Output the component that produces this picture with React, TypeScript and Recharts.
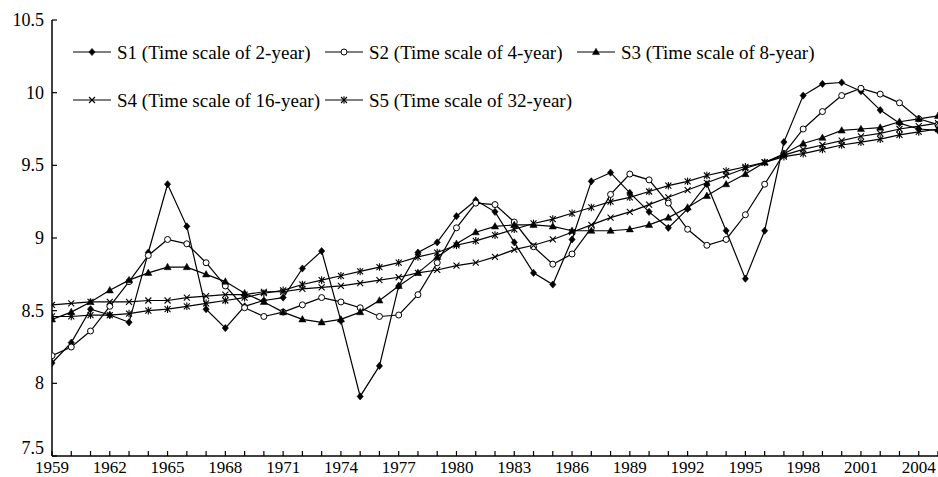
import React from 'react';
import { LineChart, Line, XAxis, YAxis } from 'recharts';

const years = [
  1959, 1960, 1961, 1962, 1963, 1964, 1965, 1966, 1967, 1968,
  1969, 1970, 1971, 1972, 1973, 1974, 1975, 1976, 1977, 1978,
  1979, 1980, 1981, 1982, 1983, 1984, 1985, 1986, 1987, 1988,
  1989, 1990, 1991, 1992, 1993, 1994, 1995, 1996, 1997, 1998,
  1999, 2000, 2001, 2002, 2003, 2004, 2005,
];

const s1 = [
  8.14, 8.28, 8.51, 8.47, 8.42, 8.90, 9.37, 9.08, 8.51, 8.38,
  8.53, 8.57, 8.59, 8.79, 8.91, 8.43, 7.91, 8.12, 8.67, 8.90,
  8.97, 9.15, 9.26, 9.18, 8.97, 8.76, 8.68, 8.99, 9.39, 9.45,
  9.31, 9.18, 9.07, 9.20, 9.37, 9.05, 8.72, 9.05, 9.66, 9.98,
  10.06, 10.07, 10.01, 9.88, 9.79, 9.75, 9.74,
];

const s2 = [
  8.19, 8.25, 8.36, 8.53, 8.70, 8.88, 8.99, 8.96, 8.83, 8.67,
  8.52, 8.46, 8.49, 8.54, 8.59, 8.56, 8.52, 8.46, 8.47, 8.61,
  8.83, 9.07, 9.24, 9.23, 9.11, 8.94, 8.82, 8.89, 9.07, 9.30,
  9.44, 9.40, 9.24, 9.06, 8.95, 8.99, 9.16, 9.37, 9.58, 9.75,
  9.87, 9.98, 10.03, 9.99, 9.93, 9.82, 9.78,
];

const s3 = [
  8.44, 8.49, 8.56, 8.64, 8.71, 8.76, 8.80, 8.80, 8.75, 8.70,
  8.62, 8.56, 8.49, 8.44, 8.42, 8.44, 8.49, 8.57, 8.67, 8.76,
  8.87, 8.96, 9.04, 9.08, 9.09, 9.09, 9.08, 9.05, 9.05, 9.05,
  9.06, 9.09, 9.14, 9.21, 9.29, 9.37, 9.44, 9.52, 9.58, 9.65,
  9.69, 9.74, 9.75, 9.76, 9.80, 9.82, 9.84,
];

const s4 = [
  8.54, 8.55, 8.56, 8.56, 8.56, 8.57, 8.57, 8.59, 8.60, 8.61,
  8.61, 8.63, 8.63, 8.65, 8.66, 8.67, 8.69, 8.71, 8.73, 8.76,
  8.78, 8.81, 8.83, 8.87, 8.92, 8.95, 8.99, 9.04, 9.09, 9.14,
  9.18, 9.23, 9.28, 9.33, 9.38, 9.43, 9.48, 9.52, 9.57, 9.61,
  9.64, 9.67, 9.70, 9.72, 9.75, 9.77, 9.79,
];

const s5 = [
  8.46, 8.46, 8.47, 8.47, 8.48, 8.50, 8.51, 8.53, 8.55, 8.57,
  8.59, 8.62, 8.64, 8.68, 8.71, 8.74, 8.77, 8.80, 8.83, 8.87,
  8.90, 8.95, 8.98, 9.02, 9.06, 9.10, 9.13, 9.17, 9.21, 9.25,
  9.28, 9.32, 9.36, 9.39, 9.43, 9.46, 9.49, 9.52, 9.56, 9.58,
  9.61, 9.64, 9.66, 9.68, 9.71, 9.73, 9.75,
];

const seriesNames = [
  'S1 (Time scale of 2-year)',
  'S2 (Time scale of 4-year)',
  'S3 (Time scale of 8-year)',
  'S4 (Time scale of 16-year)',
  'S5 (Time scale of 32-year)',
];

const yTicks = [7.5, 8, 8.5, 9, 9.5, 10, 10.5];
const labelEvery = 3;

const data = years.map((y, i) => ({ year: y, s1: s1[i], s2: s2[i], s3: s3[i], s4: s4[i], s5: s5[i] }));

const FONT = '"Liberation Serif", "Times New Roman", serif';

type MarkerFn = (cx: number, cy: number) => React.ReactNode;

const diamond: MarkerFn = (cx, cy) => (
  <polygon points={`${cx},${cy - 3.6} ${cx + 3.1},${cy} ${cx},${cy + 3.6} ${cx - 3.1},${cy}`} fill="#000" stroke="#000" strokeWidth={0.6} />
);
const circle: MarkerFn = (cx, cy) => (
  <circle cx={cx} cy={cy} r={3} fill="#fff" stroke="#000" strokeWidth={1} />
);
const triangle: MarkerFn = (cx, cy) => (
  <polygon points={`${cx},${cy - 3.8} ${cx + 3.6},${cy + 2.6} ${cx - 3.6},${cy + 2.6}`} fill="#000" stroke="#000" strokeWidth={0.5} />
);
const cross: MarkerFn = (cx, cy) => (
  <g stroke="#000" strokeWidth={1.1}>
    <line x1={cx - 3} y1={cy - 3} x2={cx + 3} y2={cy + 3} />
    <line x1={cx - 3} y1={cy + 3} x2={cx + 3} y2={cy - 3} />
  </g>
);
const star: MarkerFn = (cx, cy) => (
  <g stroke="#000" strokeWidth={1.1}>
    <line x1={cx - 3} y1={cy - 3} x2={cx + 3} y2={cy + 3} />
    <line x1={cx - 3} y1={cy + 3} x2={cx + 3} y2={cy - 3} />
    <line x1={cx} y1={cy - 3.8} x2={cx} y2={cy + 3.8} />
  </g>
);

const markers: MarkerFn[] = [diamond, circle, triangle, cross, star];
const keys = ['s1', 's2', 's3', 's4', 's5'];

const makeDot = (m: MarkerFn, name: string) => (p: any) => {
  if (p.cx == null || p.cy == null) return <g key={`${name}-${p.index}`} />;
  return <g key={`${name}-${p.index}`}>{m(p.cx, p.cy)}</g>;
};

const XTick = (props: any) => {
  const { x, y, payload } = props;
  const v = payload.value as number;
  const showLabel = (v - years[0]) % labelEvery === 0 && v !== years[years.length - 1];
  return (
    <g>
      <line x1={x} y1={y} x2={x} y2={y - 5} stroke="#000" strokeWidth={1.2} />
      {showLabel && (
        <text x={x} y={y + 17} textAnchor="middle" fontFamily={FONT} fontSize={17} fill="#000">
          {v}
        </text>
      )}
    </g>
  );
};

const YTick = (props: any) => {
  const { x, y, payload } = props;
  const isBottom = payload.value === yTicks[0];
  return (
    <g>
      <line x1={x} y1={y} x2={x + 5} y2={y} stroke="#000" strokeWidth={1.2} />
      <text x={x - 8} y={y + (isBottom ? -2 : 6)} textAnchor="end" fontFamily={FONT} fontSize={18} fill="#000">
        {payload.value}
      </text>
    </g>
  );
};

const legendLayout = [
  { row: 0, x: 73 },
  { row: 0, x: 325 },
  { row: 0, x: 577 },
  { row: 1, x: 73 },
  { row: 1, x: 325 },
];
const legendRowsY = [52, 100];

export default function App() {
  return (
    <div style={{ position: 'absolute', left: 0, top: 0, width: 938, height: 477, background: '#fff' }}>
      <LineChart
        width={938}
        height={477}
        data={data}
        margin={{ top: 20, right: 0, left: 0, bottom: 0 }}
      >
        <XAxis
          dataKey="year"
          type="number"
          domain={[years[0], years[years.length - 1]]}
          ticks={years}
          interval={0}
          tickSize={0}
          tickMargin={0}
          tickLine={false}
          tick={<XTick />}
          height={21}
          axisLine={{ stroke: '#000', strokeWidth: 1.5 }}
          allowDataOverflow
        />
        <YAxis
          type="number"
          domain={[7.5, 10.5]}
          ticks={yTicks}
          interval={0}
          tickSize={0}
          tickMargin={0}
          tickLine={false}
          tick={<YTick />}
          width={52}
          axisLine={{ stroke: '#000', strokeWidth: 1.5 }}
        />
        {keys.map((k, i) => (
          <Line
            key={k}
            type="linear"
            dataKey={k}
            name={seriesNames[i]}
            stroke="#000"
            strokeWidth={1.2}
            dot={makeDot(markers[i], k)}
            activeDot={false}
            isAnimationActive={false}
          />
        ))}
      </LineChart>
      <svg
        width={938}
        height={130}
        style={{ position: 'absolute', left: 0, top: 0, pointerEvents: 'none' }}
      >
        {legendLayout.map((l, i) => {
          const y = legendRowsY[l.row];
          return (
            <g key={i}>
              <line x1={l.x} y1={y} x2={l.x + 38} y2={y} stroke="#000" strokeWidth={1.2} />
              {markers[i](l.x + 19, y)}
              <text x={l.x + 44} y={y + 6.5} fontFamily={FONT} fontSize={19} fill="#000">
                {seriesNames[i]}
              </text>
            </g>
          );
        })}
      </svg>
    </div>
  );
}
